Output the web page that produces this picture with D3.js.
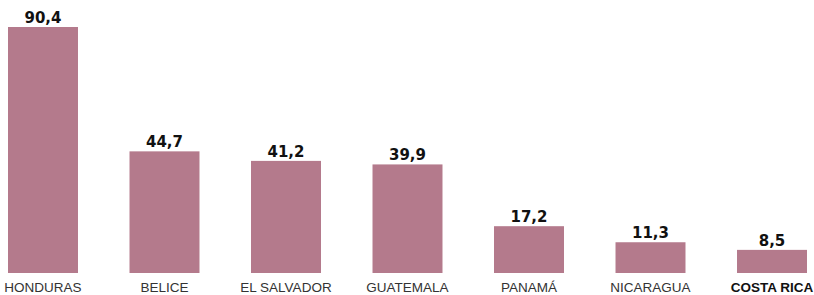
<!DOCTYPE html>
<html>
<head>
<meta charset="utf-8">
<script src="https://cdn.jsdelivr.net/npm/d3@7"></script>
<style>
  body { margin: 0; background: #fff; }
  svg { display: block; }
</style>
</head>
<body>
<svg id="chart" width="814" height="295"></svg>
<script>
var countries = ['HONDURAS', 'BELICE', 'EL SALVADOR', 'GUATEMALA', 'PANAMÁ', 'NICARAGUA', 'COSTA RICA'];
var values = [90.4, 44.7, 41.2, 39.9, 17.2, 11.3, 8.5];
var highlight = 'COSTA RICA';

var svg = d3.select('#chart');
var base = 273;

var x = d3.scaleBand()
	.domain(countries)
	.range([8, 807])
	.paddingInner(0.424)
	.paddingOuter(0);

var y = d3.scaleLinear()
	.domain([0, 90.4])
	.range([base, 27]);

var data = countries.map(function(c, i) { return {name: c, value: values[i]}; });

svg.selectAll('rect.bar')
	.data(data)
	.enter()
	.append('rect')
	.attr('class', 'bar')
	.attr('x', function(d) { return x(d.name); })
	.attr('y', function(d) { return y(d.value); })
	.attr('width', x.bandwidth())
	.attr('height', function(d) { return base - y(d.value); })
	.attr('fill', '#b47a8c');

// value labels
svg.selectAll('text.val')
	.data(data)
	.enter()
	.append('text')
	.attr('class', 'val')
	.attr('x', function(d) { return x(d.name) + x.bandwidth() / 2; })
	.attr('y', function(d) { return y(d.value) - 4; })
	.attr('text-anchor', 'middle')
	.attr('font-family', 'DejaVu Sans, sans-serif')
	.attr('font-weight', 'bold')
	.attr('font-size', 15)
	.attr('fill', '#111')
	.text(function(d) { return d3.format('.1f')(d.value).replace('.', ','); });

// category labels
svg.selectAll('text.cat')
	.data(data)
	.enter()
	.append('text')
	.attr('class', 'cat')
	.attr('x', function(d) { return x(d.name) + x.bandwidth() / 2; })
	.attr('y', 292)
	.attr('text-anchor', 'middle')
	.attr('font-family', 'Liberation Sans, Arial, sans-serif')
	.attr('font-size', 13.5)
	.attr('font-weight', function(d) { return d.name === highlight ? 'bold' : 'normal'; })
	.attr('fill', function(d) { return d.name === highlight ? '#111' : '#333'; })
	.text(function(d) { return d.name; });
</script>
</body>
</html>
